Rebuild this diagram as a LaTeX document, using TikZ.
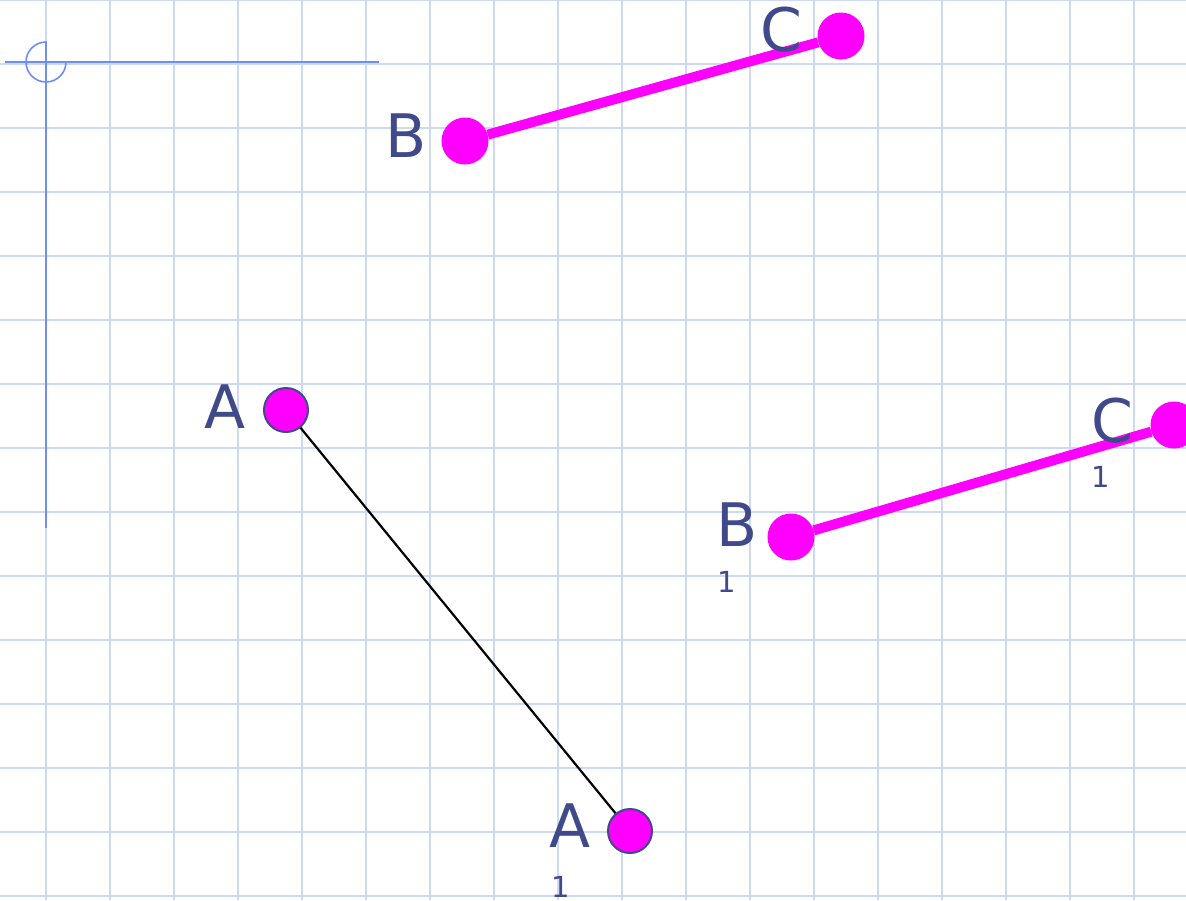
\documentclass[tikz,border=0pt]{standalone}
\usepackage{fontspec}
\setmainfont{DejaVu Sans}
\definecolor{gridc}{HTML}{CDD9F5}
\definecolor{axisc}{HTML}{6F8FF0}
\definecolor{labc}{HTML}{404A8A}
\definecolor{mag}{HTML}{FF00FF}
\tikzset{
  pt/.style={circle, fill=mag, inner sep=0pt, minimum size=47pt},
  ptb/.style={pt, draw=labc, line width=2pt, minimum size=44pt},
  lab/.style={text=labc, inner sep=0pt, font=\fontsize{60}{60}\selectfont},
  sub/.style={text=labc, inner sep=0pt, font=\fontsize{29}{29}\selectfont},
  seg/.style={mag, line width=10pt},
}
\begin{document}
\begin{tikzpicture}[x=1pt,y=-1pt]
\useasboundingbox (0,0) rectangle (1186,900);
\clip (0,0) rectangle (1186,900);
\fill[white] (0,0) rectangle (1186,900);
% grid
\foreach \i in {0,...,17} \draw[gridc, line width=2pt] ({46+64*\i},0) -- ({46+64*\i},900);
\foreach \j in {0,...,14} \draw[gridc, line width=2pt] (0,{64*\j}) -- (1186,{64*\j});
% axes
\coordinate (ax1) at (5,62);
\coordinate (ax2) at (379,62);
\coordinate (ay1) at (46,41);
\coordinate (ay2) at (46,528);
\draw[axisc, line width=2pt] (ax1) -- (ax2);
\draw[axisc, line width=2pt] (ay1) -- (ay2);
\draw[axisc, line width=1.6pt] (66,62) arc[start angle=0, end angle=270, radius=20];
% A - A1
\node[ptb] (A) at (286,410) {};
\node[ptb] (A1) at (630,831) {};
\draw[black, line width=2.2pt] (A) -- (A1);
\node[lab] (lA) at (225,407) {A};
\node[lab] (lA1) at (570,826) {A};
\node[sub] (sA1) at (561,887) {1};
% B - C
\node[pt] (B) at (465,141) {};
\node[pt] (C) at (841,36) {};
\draw[seg] (B) -- (C);
\node[lab] (lB) at (406,136) {B};
\node[lab] (lC) at (781,30) {C};
% B1 - C1
\node[pt] (B1) at (791,537) {};
\node[pt] (C1) at (1174,425) {};
\draw[seg] (B1) -- (C1);
\node[lab] (lB1) at (737,525) {B};
\node[sub] (sB1) at (727,582) {1};
\node[lab] (lC1) at (1112,421) {C};
\node[sub] (sC1) at (1101,477) {1};
\end{tikzpicture}
\end{document}
